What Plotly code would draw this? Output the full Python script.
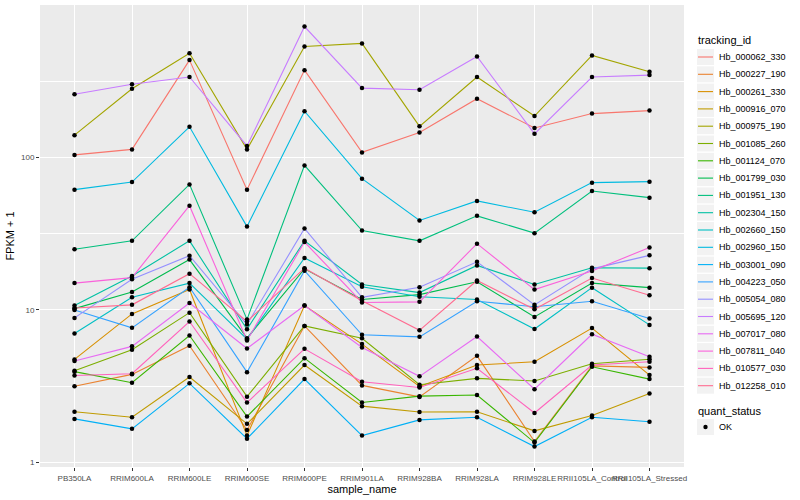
import plotly.graph_objects as go

samples = ["PB350LA", "RRIM600LA", "RRIM600LE", "RRIM600SE", "RRIM600PE", "RRIM901LA",
           "RRIM928BA", "RRIM928LA", "RRIM928LE", "RRII105LA_Control", "RRII105LA_Stressed"]

tracking_ids = ["Hb_000062_330", "Hb_000227_190", "Hb_000261_330", "Hb_000916_070", "Hb_000975_190",
                "Hb_001085_260", "Hb_001124_070", "Hb_001799_030", "Hb_001951_130", "Hb_002304_150",
                "Hb_002660_150", "Hb_002960_150", "Hb_003001_090", "Hb_004223_050", "Hb_005054_080",
                "Hb_005695_120", "Hb_007017_080", "Hb_007811_040", "Hb_010577_030", "Hb_012258_010"]

colors = ["#F8766D", "#EA8331", "#D89000", "#C09B00", "#A3A500", "#7CAE00", "#39B600", "#00BB4E",
          "#00BF7D", "#00C1A3", "#00BFC4", "#00BAE0", "#00B0F6", "#35A2FF", "#9590FF", "#C77CFF",
          "#E76BF3", "#FA62DB", "#FF62BC", "#FF6C91"]

# FPKM + 1 per sample, in the order of `samples`
Hb_000062_330 = [104, 113, 435, 61.5, 374, 108, 146, 243, 156, 194, 203]
Hb_000227_190 = [3.16, 3.78, 5.82, 1.63, 7.86, 3.2, 2.69, 5.0, 1.37, 4.3, 4.2]
Hb_000261_330 = [4.74, 9.42, 13.6, 1.50, 10.7, 5.97, 3.15, 4.35, 4.57, 7.6, 3.74]
Hb_000916_070 = [2.15, 1.98, 3.63, 1.79, 4.35, 2.34, 2.14, 2.15, 1.61, 2.03, 2.83]
Hb_000975_190 = [140, 282, 483, 113, 535, 560, 160, 337, 187, 467, 365]
Hb_001085_260 = [3.99, 5.48, 9.6, 2.70, 7.86, 6.52, 3.23, 3.56, 3.42, 4.44, 4.75]
Hb_001124_070 = [3.94, 3.33, 6.8, 2.0, 4.83, 2.47, 2.72, 2.77, 1.35, 4.24, 3.52]
Hb_001799_030 = [10.2, 13.1, 21.4, 6.53, 18.6, 11.7, 12.6, 15.3, 9.0, 15.0, 14.0]
Hb_001951_130 = [25.0, 28.4, 66.6, 8.67, 88.7, 33.2, 28.4, 41.4, 31.9, 60.3, 54.5]
Hb_002304_150 = [10.7, 16.7, 28.4, 7.48, 28.4, 14.7, 13.0, 19.6, 14.7, 18.9, 18.8]
Hb_002660_150 = [7.01, 12.1, 15.0, 6.43, 21.9, 14.2, 12.2, 11.7, 7.5, 14.0, 7.98]
Hb_002960_150 = [61.5, 69, 159, 35.2, 201, 72.6, 38.6, 51.9, 43.7, 68.4, 69.4]
Hb_003001_090 = [1.93, 1.66, 3.3, 1.43, 3.52, 1.50, 1.9, 1.98, 1.27, 1.98, 1.85]
Hb_004223_050 = [10.0, 7.63, 14.1, 3.91, 18.1, 6.87, 6.66, 11.4, 10.5, 11.4, 8.79]
Hb_005054_080 = [8.87, 15.9, 22.7, 8.03, 34.2, 12.1, 14.1, 20.7, 10.8, 18.6, 22.8]
Hb_005695_120 = [260, 302, 337, 119, 722, 285, 278, 460, 143, 337, 347]
Hb_007017_080 = [4.62, 5.77, 11.1, 5.59, 10.7, 5.68, 3.67, 6.7, 3.02, 6.93, 4.93]
Hb_007811_040 = [15.0, 16.3, 48.3, 6.31, 27.9, 11.2, 11.3, 27.2, 13.6, 18.0, 25.7]
Hb_010577_030 = [3.72, 3.82, 8.4, 2.47, 5.56, 3.38, 3.1, 4.14, 2.11, 4.35, 4.57]
Hb_012258_010 = [10.3, 10.8, 17.3, 8.41, 18.8, 11.5, 7.35, 15.6, 10.1, 16.2, 12.5]

series = [Hb_000062_330, Hb_000227_190, Hb_000261_330, Hb_000916_070, Hb_000975_190,
          Hb_001085_260, Hb_001124_070, Hb_001799_030, Hb_001951_130, Hb_002304_150,
          Hb_002660_150, Hb_002960_150, Hb_003001_090, Hb_004223_050, Hb_005054_080,
          Hb_005695_120, Hb_007017_080, Hb_007811_040, Hb_010577_030, Hb_012258_010]

quant_status = "OK"

# ---- layout geometry (pixels) ----
W, H = 800, 500
PL, PR, PT, PB = 40, 684, 5, 467


def px2x(px):
    return (px - PL) / (PR - PL)


def py2y(py):
    return (PB - py) / (PB - PT)


fig = go.Figure()
for name, vals, col in zip(tracking_ids, series, colors):
    fig.add_trace(go.Scatter(x=samples, y=vals, mode="lines", name=name,
                             line=dict(color=col, width=1.1), showlegend=False))

all_x, all_y = [], []
for vals in series:
    all_x += samples
    all_y += vals
fig.add_trace(go.Scatter(x=all_x, y=all_y, mode="markers", name=quant_status,
                         marker=dict(color="black", size=4.5, symbol="circle"),
                         showlegend=False))

# ---- ggplot-style legend drawn with shapes + text ----
shapes, annotations = [], []
font_family = "Liberation Sans, Arial, sans-serif"
key_x0, key_x1 = 697, 714
text_x = 717
y0 = 57.0
step = 17.3

annotations.append(dict(text="tracking_id", xref="paper", yref="paper",
                        x=px2x(696), y=py2y(40), xanchor="left", yanchor="middle",
                        showarrow=False, font=dict(size=11, color="black")))
for i, (name, col) in enumerate(zip(tracking_ids, colors)):
    cy = y0 + i * step
    shapes.append(dict(type="rect", xref="paper", yref="paper",
                       x0=px2x(key_x0), x1=px2x(key_x1),
                       y0=py2y(cy - 8), y1=py2y(cy + 8),
                       fillcolor="#F2F2F2", line=dict(width=0), layer="below"))
    shapes.append(dict(type="line", xref="paper", yref="paper",
                       x0=px2x(key_x0 + 1), x1=px2x(key_x1 - 1),
                       y0=py2y(cy), y1=py2y(cy),
                       line=dict(color=col, width=1.1)))
    annotations.append(dict(text=name, xref="paper", yref="paper",
                            x=px2x(text_x), y=py2y(cy), xanchor="left", yanchor="middle",
                            showarrow=False, font=dict(size=9, color="black")))

annotations.append(dict(text="quant_status", xref="paper", yref="paper",
                        x=px2x(696), y=py2y(411), xanchor="left", yanchor="middle",
                        showarrow=False, font=dict(size=11, color="black")))
cy = 427
shapes.append(dict(type="rect", xref="paper", yref="paper",
                   x0=px2x(key_x0), x1=px2x(key_x1),
                   y0=py2y(cy - 8), y1=py2y(cy + 8),
                   fillcolor="#F2F2F2", line=dict(width=0), layer="below"))
shapes.append(dict(type="circle", xref="paper", yref="paper",
                   x0=px2x(703.3), x1=px2x(707.7), y0=py2y(cy - 2.2), y1=py2y(cy + 2.2),
                   fillcolor="black", line=dict(width=0)))
annotations.append(dict(text=quant_status, xref="paper", yref="paper",
                        x=px2x(text_x), y=py2y(cy), xanchor="left", yanchor="middle",
                        showarrow=False, font=dict(size=9, color="black")))

fig.update_layout(
    width=W, height=H,
    margin=dict(l=PL, r=W - PR, t=PT, b=H - PB, autoexpand=False),
    paper_bgcolor="white", plot_bgcolor="#EBEBEB",
    font=dict(family=font_family, size=9, color="black"),
    showlegend=False,
    shapes=shapes, annotations=annotations,
)
fig.update_xaxes(
    type="category", categoryorder="array", categoryarray=samples,
    range=[-0.6, len(samples) - 0.4], automargin=False,
    showgrid=True, gridcolor="white", gridwidth=1.1,
    ticks="outside", ticklen=3, tickcolor="#333333", tickwidth=1,
    tickangle=0, tickfont=dict(size=8, color="#4D4D4D"),
    title=dict(text="sample_name", font=dict(size=11), standoff=3),
    zeroline=False, showline=False,
)
fig.update_yaxes(
    type="log", range=[-0.03, 3.0], automargin=False,
    tickvals=[1, 10, 100], ticktext=["1", "10", "100"],
    showgrid=True, gridcolor="white", gridwidth=1.1,
    minor=dict(tickvals=[3.1623, 31.623, 316.23], showgrid=True, gridcolor="white",
               gridwidth=0.5, ticks=""),
    ticks="outside", ticklen=3, tickcolor="#333333", tickwidth=1,
    tickfont=dict(size=8, color="#4D4D4D"),
    title=dict(text="FPKM + 1", font=dict(size=11), standoff=4),
    zeroline=False, showline=False,
)

fig.write_html("out.html", config={"displayModeBar": False},
               post_script="document.body.style.margin='0';document.body.style.overflow='hidden';")
